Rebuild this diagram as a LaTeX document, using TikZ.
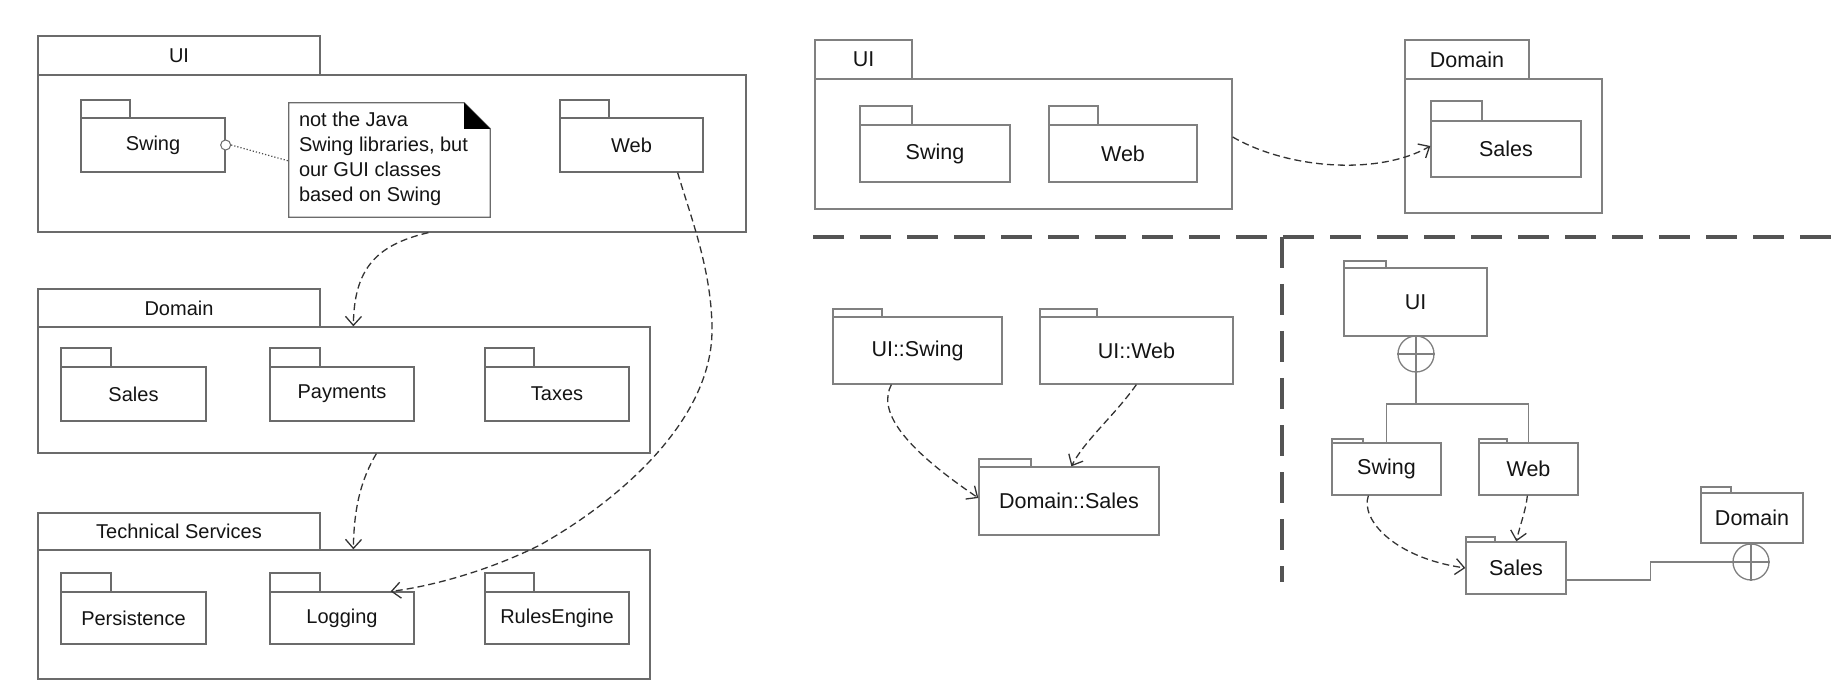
\documentclass[tikz,border=0pt]{standalone}
\usepackage{fontspec}
\setmainfont{Liberation Sans}
\usetikzlibrary{arrows.meta}
\definecolor{lc}{gray}{0.42}
\definecolor{rc}{gray}{0.5}
\definecolor{tc}{gray}{0.08}
\definecolor{sepc}{gray}{0.33}
\newcommand{\bx}[7][]{\node[pkg,minimum width={#5-#3},minimum height={#6-#4},#1] (#2) at ({(#3+#5)/2},{(#4+#6)/2}) {#7};}
\begin{document}
\begin{tikzpicture}[x=1pt,y=-1pt,
  pkg/.style={draw=lc,line width=1.3pt,fill=white,inner sep=0pt,text=tc},
  lf/.style={font=\fontsize{20}{24}\selectfont},
  rf/.style={font=\fontsize{21.5}{26}\selectfont,draw=rc},
  rt/.style={draw=rc},
  pline/.style={draw=lc,line width=1.3pt},
  arr/.style={draw=black!80,line width=1.3pt,dash pattern=on 7pt off 4pt,-{Straight Barb[length=9pt,width=16pt]}},
  sepline/.style={draw=sepc,line width=4.5pt,dash pattern=on 31pt off 16pt},
  plus/.style={circle,draw=rc,line width=1.3pt,fill=white,minimum size=36pt,inner sep=0pt}]
\useasboundingbox (0,0) rectangle (1839,692);

% ---------------- left panel ----------------
\bx[lf]{uiL}{38}{75}{746}{232}{}
\bx[lf]{uiLt}{38}{36}{320}{75}{UI}
\bx{swLt}{81}{100}{130}{118}{}
\bx[lf]{swL}{81}{118}{225}{172}{Swing}
\bx{webLt}{560}{100}{609}{118}{}
\bx[lf]{webL}{560}{118}{703}{172}{Web}

\node[minimum width=201pt,minimum height=114pt,inner sep=0pt,fill=white] (note) at (389.5,160) {};
\draw[pline] (note.north west) -- ([xshift=-26pt]note.north east) -- ([yshift=-26pt]note.north east) -- (note.south east) -- (note.south west) -- cycle;
\fill[black] ([xshift=-26pt]note.north east) -- ([xshift=-26pt,yshift=-26pt]note.north east) -- ([yshift=-26pt]note.north east) -- cycle;
\node[anchor=north west,align=left,inner sep=0pt,text=tc,font=\fontsize{20}{25}\selectfont] (notetxt) at ([xshift=10pt,yshift=-9pt]note.north west) {not the Java\\Swing libraries, but\\our GUI classes\\based on Swing};
\node[circle,draw=lc,line width=1pt,fill=white,minimum size=10pt,inner sep=0pt] (lol) at (swL.east) {};
\draw[draw=black!70,line width=1.2pt,dotted] (lol.east) -- ([yshift=-1pt]note.west);

\bx[lf]{domL}{38}{327}{650}{453}{}
\bx[lf]{domLt}{38}{289}{320}{327}{Domain}
\bx{salLt}{61}{348}{111}{367}{}
\bx[lf]{salL}{61}{367}{206}{421}{Sales}
\bx{payLt}{270}{348}{320}{367}{}
\bx[lf]{payL}{270}{367}{414}{421}{Payments}
\bx{taxLt}{485}{348}{534}{367}{}
\bx[lf]{taxL}{485}{367}{629}{421}{Taxes}

\bx[lf]{tsL}{38}{550}{650}{679}{}
\bx[lf]{tsLt}{38}{513}{320}{550}{Technical Services}
\bx{perLt}{61}{573}{111}{592}{}
\bx[lf]{perL}{61}{592}{206}{644}{Persistence}
\bx{logLt}{270}{573}{320}{592}{}
\bx[lf]{logL}{270}{592}{414}{644}{Logging}
\bx{rulLt}{485}{573}{534}{592}{}
\bx[lf]{rulL}{485}{592}{629}{644}{RulesEngine}

\draw[arr] ([xshift=391pt]uiL.south west) .. controls (375,245) and (354,270) .. ([xshift=316pt]domL.north west);
\draw[arr] ([xshift=339pt]domL.south west) .. controls (362,478) and (354,505) .. ([xshift=316pt]tsL.north west);
\draw[arr] ([xshift=-26pt]webL.south east) .. controls (690,215) and (712,270) .. (712,330) .. controls (712,420) and (620,500) .. (540,545) .. controls (480,575) and (420,588) .. ([xshift=-24pt]logL.north east);

% ---------------- right top ----------------
\bx[rf]{uiR}{815}{79}{1232}{209}{}
\bx[rf]{uiRt}{815}{40}{912}{79}{UI}
\bx[rt]{swRt}{860}{106}{912}{125}{}
\bx[rf]{swR}{860}{125}{1010}{182}{Swing}
\bx[rt]{webRt}{1049}{106}{1098}{125}{}
\bx[rf]{webR}{1049}{125}{1197}{182}{Web}
\bx[rf]{domR}{1405}{79}{1602}{213}{}
\bx[rf]{domRt}{1405}{40}{1529}{79}{Domain}
\bx[rt]{salRt}{1431}{101}{1482}{121}{}
\bx[rf]{salR}{1431}{121}{1581}{177}{Sales}
\draw[arr] ([yshift=7pt]uiR.east) .. controls (1290,170) and (1380,175) .. ([yshift=3pt]salR.west);

% ---------------- separators ----------------
\coordinate (h1) at (813,237);
\coordinate (h2) at (1839,237);
\coordinate (v1) at (1282,237);
\coordinate (v2) at (1282,582);
\draw[sepline] (h1) -- (h2);
\draw[sepline] (v1) -- (v2);

% ---------------- middle ----------------
\bx[rt]{usT}{833}{309}{882}{317}{}
\bx[rf]{us}{833}{317}{1002}{384}{UI::Swing}
\bx[rt]{uwT}{1040}{309}{1097}{317}{}
\bx[rf]{uw}{1040}{317}{1233}{384}{UI::Web}
\bx[rt]{dsT}{979}{459}{1031}{467}{}
\bx[rf]{ds}{979}{467}{1159}{535}{Domain::Sales}
\draw[arr] ([xshift=59pt]us.south west) .. controls (878,410) and (900,445) .. ([yshift=3pt]ds.west);
\draw[arr] ([xshift=97pt]uw.south west) .. controls (1115,415) and (1085,440) .. ([xshift=93pt]ds.north west);

% ---------------- lower right ----------------
\bx[rt]{u2T}{1344}{261}{1386}{268}{}
\bx[rf]{u2}{1344}{268}{1487}{336}{UI}
\bx[rt]{s2T}{1332}{439}{1363}{443}{}
\bx[rf]{s2}{1332}{443}{1441}{495}{Swing}
\bx[rt]{w2T}{1479}{439}{1507}{443}{}
\bx[rf]{w2}{1479}{443}{1578}{495}{Web}
\bx[rt]{sa2T}{1466}{537}{1495}{542}{}
\bx[rf]{sa2}{1466}{542}{1566}{594}{Sales}
\bx[rt]{d2T}{1701}{487}{1731}{493}{}
\bx[rf]{d2}{1701}{493}{1803}{543}{Domain}
\node[plus] (cu) at (1416,354) {};
\draw[draw=rc,line width=1.1pt] (cu.north) -- (cu.south) (cu.west) -- (cu.east);
\node[plus] (cd) at (1751,562) {};
\draw[draw=rc,line width=1.1pt] (cd.north) -- (cd.south) (cd.west) -- (cd.east);
\coordinate (j) at (1416,404);
\draw[pline,draw=rc] (cu.south) -- (j);
\draw[pline,draw=rc] (s2.north) |- (j);
\draw[pline,draw=rc] (w2.north) |- (j);
\draw[pline,draw=rc] ([yshift=-12pt]sa2.east) -- ++(84,0) |- (cd.west);
\draw[arr] ([xshift=37pt]s2.south west) .. controls (1360,520) and (1395,558) .. (sa2.west);
\draw[arr] ([xshift=49pt]w2.south west) .. controls (1526,510) and (1520,525) .. ([xshift=51pt]sa2.north west);
\end{tikzpicture}
\end{document}
